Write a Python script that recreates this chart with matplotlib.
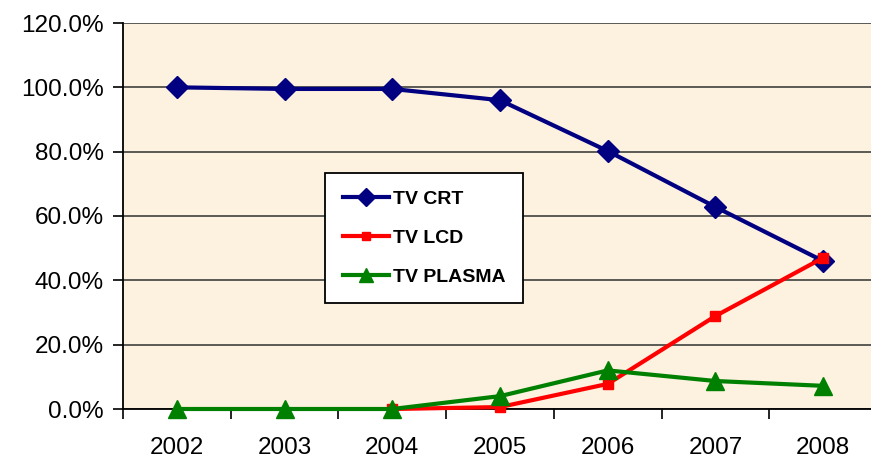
import matplotlib
matplotlib.use("Agg")
from matplotlib import pyplot as plt
from matplotlib.ticker import FixedLocator, PercentFormatter

nan = float('nan')
years = ["2002", "2003", "2004", "2005", "2006", "2007", "2008"]
crt = [100.0, 99.5, 99.5, 96.0, 80.2, 62.8, 46.0]
lcd = [nan, nan, 0.0, 0.6, 7.8, 28.9, 47.0]
plasma = [0.0, 0.0, 0.0, 4.0, 12.0, 8.7, 7.2]

plt.rcParams['font.family'] = ['Liberation Sans', 'DejaVu Sans']

fig = plt.figure(figsize=(8.71, 4.63), dpi=100)
ax = fig.add_axes([123 / 871, 1 - 409 / 463, 754 / 871, 386 / 463])
ax.set_facecolor('#fdf1df')

x = range(len(years))
ax.plot(x, crt, color='#000080', lw=3, marker='D', ms=11, label='TV CRT', zorder=3,
        clip_on=False)
ax.plot(x, lcd, color='#ff0000', lw=3, marker='s', ms=7, label='TV LCD', zorder=4,
        clip_on=False)
ax.plot(x, plasma, color='#008000', lw=3, marker='^', ms=13, label='TV PLASMA', zorder=5,
        clip_on=False)

ax.set_xlim(-0.5, 6.5)
ax.set_ylim(0, 120)
ax.yaxis.set_major_locator(FixedLocator([0, 20, 40, 60, 80, 100, 120]))
ax.yaxis.set_major_formatter(PercentFormatter(decimals=1))
ax.set_xticks(list(x))
ax.set_xticklabels(years, fontsize=17.5)
ax.set_xticks([i + 0.5 for i in range(-1, 7)], minor=True)
ax.tick_params(axis='x', which='major', length=0, pad=20)
ax.tick_params(axis='x', which='minor', length=7, width=1.2, direction='out')
ax.tick_params(axis='y', labelsize=17.5, length=7, width=1.2, pad=7)

ax.grid(axis='y', color='#303030', lw=1.1)
ax.set_axisbelow(True)
for s in ['top', 'right']:
    ax.spines[s].set_visible(False)
ax.spines['left'].set_linewidth(1.3)
ax.spines['bottom'].set_linewidth(1.3)

leg = ax.legend(loc='upper left', bbox_to_anchor=(0.268, 0.612), frameon=True,
                fancybox=False, edgecolor='black', framealpha=1, facecolor='white',
                prop={'size': 14, 'weight': 'bold'}, handlelength=2.4,
                borderpad=0.9, labelspacing=1.1, handletextpad=0.2, markerscale=0.8,
                borderaxespad=0)
leg.get_frame().set_linewidth(1.3)
leg.set_zorder(10)

fig.savefig('out.png', dpi=100)
